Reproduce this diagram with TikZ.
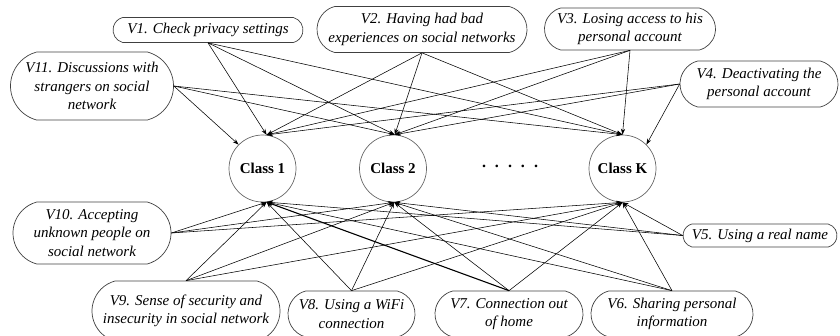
\documentclass[tikz,border=0pt]{standalone}
\usepackage{fontspec}
\setmainfont{Liberation Serif}
\usetikzlibrary{arrows.meta,shapes.misc}

\begin{document}
\begin{tikzpicture}[x=1pt,y=-1pt,
  factor/.style={rounded rectangle, rounded rectangle arc length=150,
    draw=black!75, line width=0.7pt, align=center, inner sep=0pt,
    font=\fontsize{15}{18.5}\selectfont\itshape},
  cls/.style={circle, draw=black!60, line width=0.7pt, minimum size=67pt, inner sep=0pt,
    font=\fontsize{15}{18}\selectfont\bfseries},
  conn/.style={-{Stealth[length=6pt,width=4.2pt]}, line width=0.55pt},
  strong/.style={conn, line width=1.1pt}]
\useasboundingbox (0,0) rectangle (840,335);

% latent classes
\node[cls] (c1) at (262.5,168.5) {Class 1};
\node[cls] (c2) at (393,168.5) {Class 2};
\node[cls] (cK) at (622.5,168.5) {Class K};
\node[font=\fontsize{16}{18}\selectfont\bfseries] (dots) at (510,166)
  {.\hspace{9pt}.\hspace{9pt}.\hspace{9pt}.\hspace{9pt}.};

% upper indicators
\node[factor, minimum width=190pt, minimum height=25pt] (v1) at (208,30)
  {V1. Check privacy settings};
\node[factor, minimum width=210pt, minimum height=46pt] (v2) at (422,29.5)
  {V2. Having had bad\\experiences on social networks};
\node[factor, minimum width=171pt, minimum height=42pt] (v3) at (630,29)
  {V3. Losing access to his\\personal account};
\node[factor, minimum width=158pt, minimum height=46pt] (v4) at (759,84)
  {V4. Deactivating the\\personal account};
\node[factor, minimum width=163pt, minimum height=68pt] (v11) at (92,86)
  {V11. Discussions with\\strangers on social\\network};

% lower indicators
\node[factor, minimum width=154pt, minimum height=23pt] (v5) at (760,235.5)
  {V5. Using a real name};
\node[factor, minimum width=158pt, minimum height=62pt] (v10) at (92,233)
  {V10. Accepting\\unknown people on\\social network};
\node[factor, minimum width=188pt, minimum height=60pt] (v9) at (186,311)
  {V9. Sense of security and\\insecurity in social network};
\node[factor, minimum width=127pt, minimum height=46pt] (v8) at (351.5,314)
  {V8. Using a WiFi\\connection};
\node[factor, minimum width=148pt, minimum height=46pt] (v7) at (509,314)
  {V7. Connection out\\of home};
\node[factor, minimum width=162pt, minimum height=46pt] (v6) at (672,314)
  {V6. Sharing personal\\information};

% connectors into the tops of the classes
\foreach \v in {v1,v2,v3} {
  \draw[conn] (\v.south) -- (c1.83);
  \draw[conn] (\v.south) -- (c2.87);
  \draw[conn] (\v.south) -- (cK.north);
}
\draw[conn] (v11.east) -- (c1.135);
\draw[conn] (v11.east) -- (c2.87);
\draw[conn] (v11.east) -- (cK.north);
\draw[conn] (v4.west) -- (c1.83);
\draw[conn] (v4.west) -- (c2.87);
\draw[conn] (v4.west) -- (cK.45);

% connectors into the bottoms of the classes
\foreach \v/\a in {v10/east,v9/north,v8/north,v6/north,v5/west} {
  \draw[conn] (\v.\a) -- (c1.-83);
  \draw[conn] (\v.\a) -- (c2.-88);
  \draw[conn] (\v.\a) -- (cK.south);
}
\draw[strong] (v7.north) -- (c1.-83);
\draw[conn] (v7.north) -- (c2.-88);
\draw[conn] (v7.north) -- (cK.south);
\end{tikzpicture}
\end{document}
